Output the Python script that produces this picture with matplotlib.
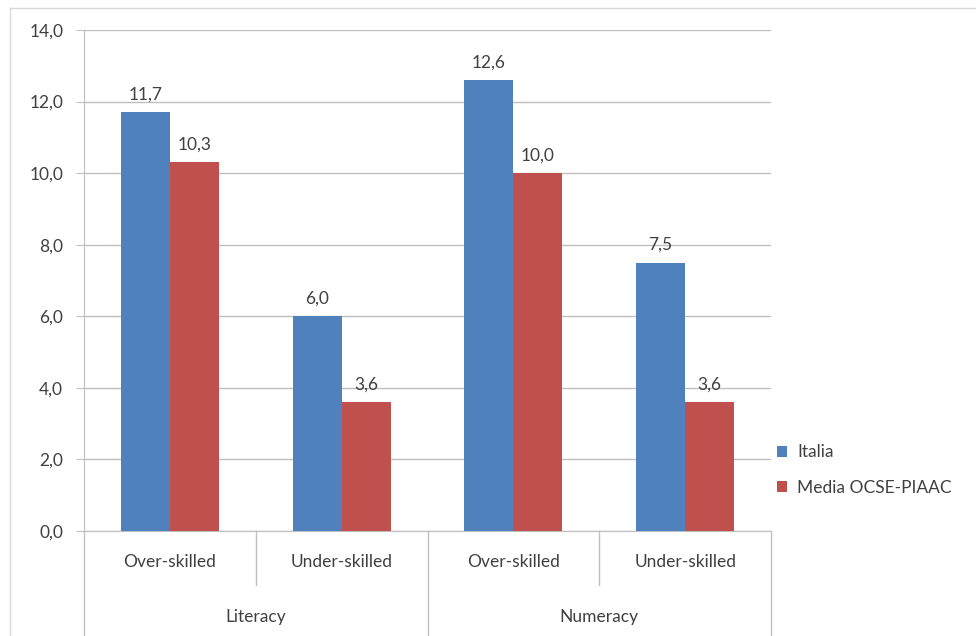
import matplotlib
matplotlib.use("Agg")
import matplotlib.pyplot as plt
import matplotlib.transforms as mtransforms
from matplotlib.lines import Line2D
import numpy as np

plt.rcParams['font.family'] = ['Lato', 'DejaVu Sans']

subcats = ["Over-skilled", "Under-skilled", "Over-skilled", "Under-skilled"]
groups = ["Literacy", "Numeracy"]
series_names = ["Italia", "Media OCSE-PIAAC"]
italia = [11.7, 6.0, 12.6, 7.5]
media = [10.3, 3.6, 10.0, 3.6]
yticks = [0, 2, 4, 6, 8, 10, 12, 14]

blue = "#4F81BD"
red = "#C0504D"
txt = "#404040"
grid = "#BFBFBF"
fs = 12.5

W, H = 976, 636
fig = plt.figure(figsize=(W / 100, H / 100), dpi=100)
L, R, T, B = 84, 771, 30, 531
ax = fig.add_axes([L / W, 1 - B / H, (R - L) / W, (B - T) / H])

x = np.arange(len(subcats))
bw = 0.285
b1 = ax.bar(x - bw / 2, italia, bw, color=blue, label=series_names[0], zorder=3)
b2 = ax.bar(x + bw / 2, media, bw, color=red, label=series_names[1], zorder=3)

for bars, vals in ((b1, italia), (b2, media)):
    for rect, v in zip(bars, vals):
        ax.annotate(f"{v:.1f}".replace(".", ","),
                    (rect.get_x() + rect.get_width() / 2, v),
                    xytext=(0, 7), textcoords="offset points",
                    ha="center", va="bottom", fontsize=fs, color=txt)

ax.set_xlim(-0.5, len(subcats) - 0.5)
ax.set_ylim(0, 14)
ax.set_yticks(yticks)
ax.set_yticklabels([f"{t:.1f}".replace(".", ",") for t in yticks])
ax.tick_params(axis="y", length=6, color=grid, labelsize=fs, labelcolor=txt, pad=9)
ax.set_xticks([])
ax.yaxis.grid(True, color=grid, linewidth=1, zorder=0)
for s in ["top", "right"]:
    ax.spines[s].set_visible(False)
ax.spines["left"].set_color(grid)
ax.spines["bottom"].set_color(grid)

# two-level category axis
trans = mtransforms.blended_transform_factory(ax.transData, ax.transAxes)
inner = -(585 - B) / (B - T)
outer = -(640 - B) / (B - T)
for i, lab in enumerate(subcats):
    ax.text(i, -(562 - B) / (B - T), lab, transform=trans, ha="center", va="center",
            fontsize=fs, color=txt)
for bx in [0.5, 2.5]:
    ax.add_line(Line2D([bx, bx], [0, inner], transform=trans, color=grid, lw=1, clip_on=False))
for bx in [-0.5, 1.5, 3.5]:
    ax.add_line(Line2D([bx, bx], [0, outer], transform=trans, color=grid, lw=1, clip_on=False))
for gi, g in enumerate(groups):
    ax.text(gi * 2 + 0.5, -(617 - B) / (B - T), g, transform=trans, ha="center", va="center",
            fontsize=fs, color=txt)

# outer chart border
fig.add_artist(Line2D([10 / W, 10 / W], [0, 1 - 8 / H], color="#D9D9D9", lw=1))
fig.add_artist(Line2D([10 / W, 1], [1 - 8 / H, 1 - 8 / H], color="#D9D9D9", lw=1))

fig.legend(handles=[b1, b2], loc="center left", bbox_to_anchor=(761 / W, 1 - 470 / H),
           frameon=False, handlelength=0.6, handleheight=0.6, handletextpad=0.6,
           labelspacing=1.1, fontsize=fs, labelcolor=txt)

fig.savefig("out.png", dpi=100)
